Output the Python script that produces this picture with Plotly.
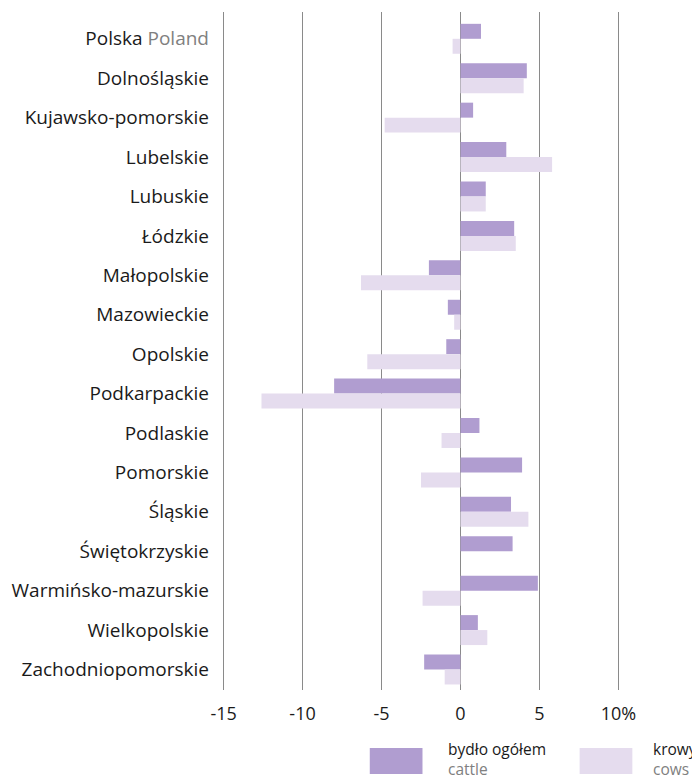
import plotly.graph_objects as go

categories = ["Polska <span style='color:#808080'>Poland</span>", "Dolnośląskie", "Kujawsko-pomorskie", "Lubelskie",
              "Lubuskie", "Łódzkie", "Małopolskie", "Mazowieckie", "Opolskie", "Podkarpackie",
              "Podlaskie", "Pomorskie", "Śląskie", "Świętokrzyskie", "Warmińsko-mazurskie",
              "Wielkopolskie", "Zachodniopomorskie"]
cattle = [1.3, 4.2, 0.8, 2.9, 1.6, 3.4, -2.0, -0.8, -0.9, -8.0, 1.2, 3.9, 3.2, 3.3, 4.9, 1.1, -2.3]
cows = [-0.5, 4.0, -4.8, 5.8, 1.6, 3.5, -6.3, -0.4, -5.9, -12.6, -1.2, -2.5, 4.3, 0.0, -2.4, 1.7, -1.0]
x_ticks = [-15, -10, -5, 0, 5, 10]
x_ticklabels = ["-15", "-10", "-5", "0", "5", "10%"]

C_CATTLE = "#b09dd0"
C_COWS = "#e5dcee"
FONT = "Open Sans"

# page offset (body margin) compensation
OFF = 8
W, H = 700, 780
XMIN, XMAX = -15.1, 10.1
PPU = (618 - 221) / 25.0
L = 221 - OFF - 0.1 * PPU
R = 618 - OFF + 0.1 * PPU
T, B = 12 - OFF, 690 - OFF  # plot area in figure px

fig = go.Figure()
fig.add_trace(go.Bar(y=categories, x=cattle, orientation="h", marker=dict(color=C_CATTLE, line=dict(width=0)),
                     name="bydło ogółem"))
fig.add_trace(go.Bar(y=categories, x=cows, orientation="h", marker=dict(color=C_COWS, line=dict(width=0)),
                     name="krowy"))

fig.update_layout(
    width=W, height=H,
    margin=dict(l=L, r=W - R, t=T, b=H - B),
    paper_bgcolor="white", plot_bgcolor="white",
    barmode="group", bargap=0.24, bargroupgap=0,
    showlegend=False,
    font=dict(family=FONT, size=19, color="#1a1a1a"),
    xaxis=dict(range=[XMIN, XMAX], tickvals=x_ticks, ticktext=x_ticklabels,
               showgrid=True, gridcolor="#8a8a8a", gridwidth=1, zeroline=True,
               zerolinecolor="#8a8a8a", zerolinewidth=1, showline=False,
               ticks="", ticklabelstandoff=11, tickfont=dict(size=18, color="#1a1a1a")),
    yaxis=dict(range=[16.52, -0.68], showgrid=False, showline=False, ticks="",
               ticklabelstandoff=12, tickfont=dict(size=19, color="#1a1a1a")),
)

# legend drawn manually (page px -> paper coords)
def px_x(px):
    return (px - OFF - L) / (R - L)

def px_y(py):
    return (B - (py - OFF)) / (B - T)

for (x0, x1, col) in [(368, 421, C_CATTLE), (579, 632, C_COWS)]:
    fig.add_shape(type="rect", xref="paper", yref="paper", x0=px_x(x0), x1=px_x(x1),
                  y0=px_y(774), y1=px_y(748), fillcolor=col, line=dict(width=0))

for (xp, t1, t2) in [(446, "bydło ogółem", "cattle"), (652, "krowy", "cows")]:
    fig.add_annotation(xref="paper", yref="paper", x=px_x(xp), y=px_y(759), xanchor="left", yanchor="middle",
                       text=f"{t1}<br><span style='color:#808080'>{t2}</span>", showarrow=False, align="left",
                       borderpad=0, font=dict(size=15.5, color="#1a1a1a", family=FONT))

fig.write_html("out.html")
